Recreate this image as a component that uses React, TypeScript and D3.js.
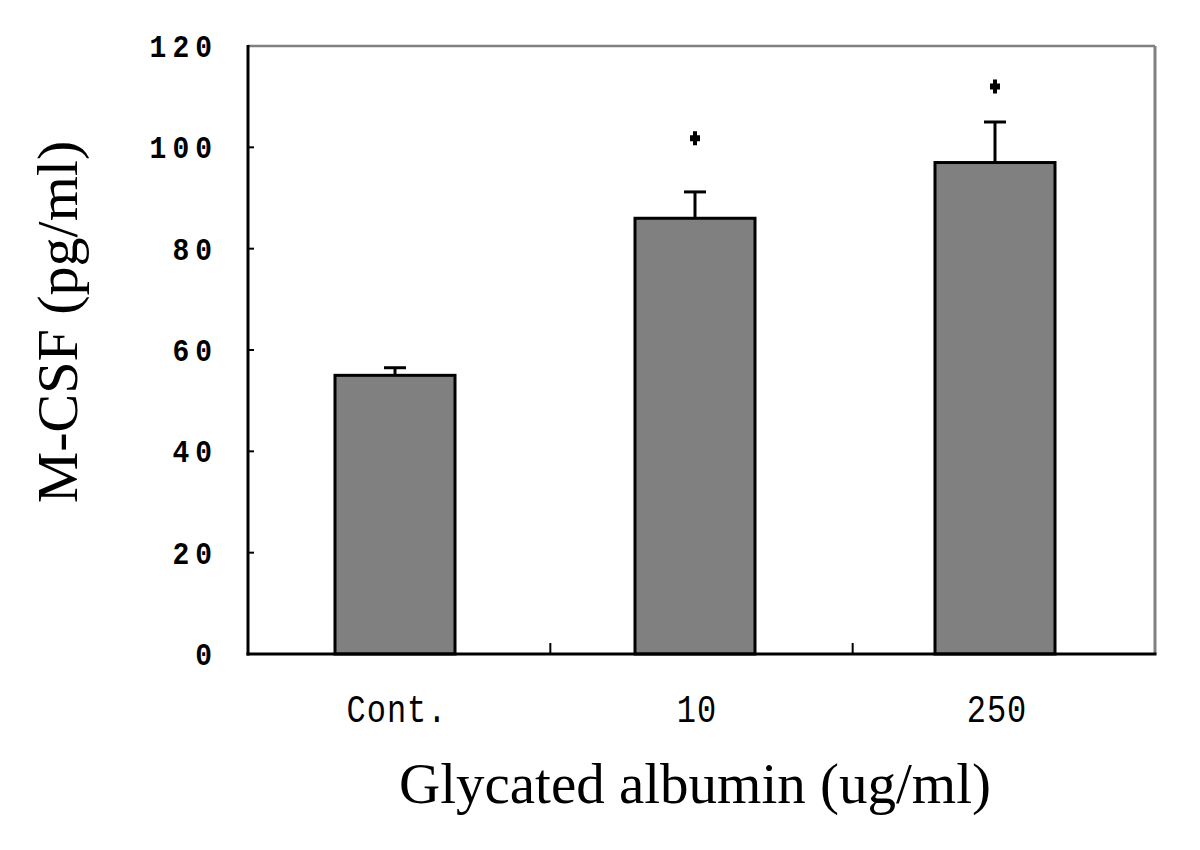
import React from "react";
import * as d3 from "d3";

const categories = ["Cont.", "10", "250"];
const means = [55, 86, 97];
const errors = [1.5, 5.2, 8];
const marks = [null, 101.8, 112];
const yTicks = [0, 20, 40, 60, 80, 100, 120];

export default function App() {
  const W = 1200, H = 850;
  const left = 248, right = 1155, top = 46, bottom = 654;
  const x = d3.scaleBand().domain(categories).range([245, 1145]).paddingInner(0.6).paddingOuter(0.3);
  const xb = d3.scaleBand().domain(categories).range([left, right]);
  const y = d3.scaleLinear().domain([0, 120]).range([bottom, top]);
  const bw = x.bandwidth();
  const monoFont = "'Liberation Mono', 'DejaVu Sans Mono', monospace";
  const serif = "'Liberation Serif', 'Times New Roman', serif";
  return (
    <svg width={W} height={H} style={{ display: "block", position: "absolute", left: 0, top: 0 }}>
      <rect x={0} y={0} width={W} height={H} fill="#fff" />
      <line x1={left} y1={top} x2={right} y2={top} stroke="#808080" strokeWidth={2.5} />
      <line x1={right} y1={top} x2={right} y2={bottom} stroke="#808080" strokeWidth={3} />
      {categories.map((c, i) => {
        const cx = (x(c) as number) + bw / 2;
        return (
          <g key={c}>
            <line x1={cx} x2={cx} y1={y(means[i])} y2={y(means[i] + errors[i])} stroke="#000" strokeWidth={3} />
            <line x1={cx - 11} x2={cx + 11} y1={y(means[i] + errors[i])} y2={y(means[i] + errors[i])} stroke="#000" strokeWidth={3} />
            <rect x={x(c)} y={y(means[i])} width={bw} height={bottom - y(means[i])} fill="#808080" stroke="#000" strokeWidth={3} />
            {marks[i] != null && (
              <path transform={`translate(${cx},${y(marks[i] as number)})`} d="M-2,-7 H2 V-3 H5 V3 H2 V7 H-2 V3 H-5 V-3 H-2 Z" fill="#000" />
            )}
          </g>
        );
      })}
      <line x1={left} y1={top - 1} x2={left} y2={bottom + 1.5} stroke="#000" strokeWidth={3} />
      <line x1={left - 1.5} y1={bottom} x2={right + 1.5} y2={bottom} stroke="#000" strokeWidth={3} />
      {yTicks.map((t) => (
        <g key={t}>
          {t > 0 && t < 120 && <line x1={left} x2={left + 6} y1={y(t)} y2={y(t)} stroke="#000" strokeWidth={2} />}
          <text transform={`translate(218,${y(t) + 11}) scale(1,1.12)`} textAnchor="end" fontFamily={monoFont} fontWeight="bold" fontSize={28} letterSpacing={6}>{t}</text>
        </g>
      ))}
      {categories.slice(1).map((c) => (
        <line key={c} x1={xb(c)} x2={xb(c)} y1={bottom} y2={bottom - 11} stroke="#000" strokeWidth={2} />
      ))}
      {categories.map((c) => (
        <text key={c} transform={`translate(${(x(c) as number) + bw / 2 + 2},722) scale(1,1.2)`} textAnchor="middle" fontFamily={monoFont} fontSize={32} letterSpacing={1}>{c}</text>
      ))}
      <text x={695} y={803} textAnchor="middle" fontFamily={serif} fontSize={57}>Glycated albumin (ug/ml)</text>
      <text transform="translate(77,322) rotate(-90)" textAnchor="middle" fontFamily={serif} fontSize={58}>M-CSF (pg/ml)</text>
    </svg>
  );
}
